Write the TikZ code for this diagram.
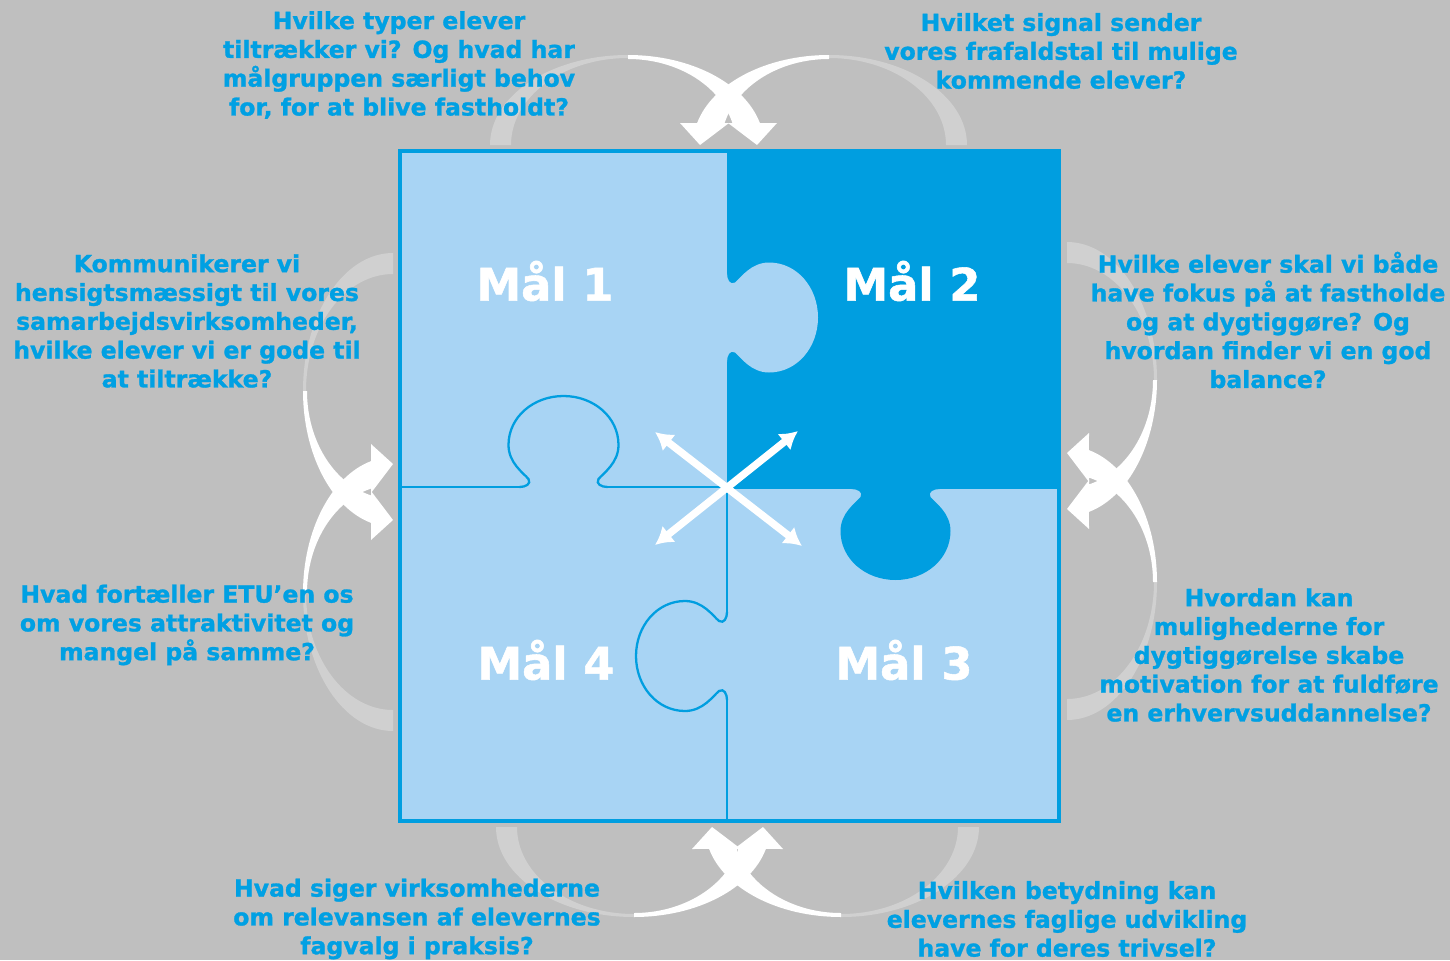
\documentclass[tikz,border=0pt]{standalone}
\usepackage{fontspec}
\setmainfont{DejaVu Sans}[BoldFeatures={FakeBold=1.2}]
\usetikzlibrary{arrows.meta}
\definecolor{bggray}{RGB}{191,191,191}
\definecolor{arcgray}{RGB}{208,208,208}
\definecolor{lightpiece}{RGB}{168,212,244}
\definecolor{darkpiece}{RGB}{0,158,224}
\definecolor{txtblue}{RGB}{0,160,227}

% canonical curved arrow (image frame, y down): tail at top, bulge left, head at bottom pointing right
\newcommand\bendarrow[1]{%
 \begin{scope}[#1]
  \fill[arcgray] (0,-138) arc[start angle=270,end angle=180,x radius=90,y radius=138]
     -- (-87,0) arc[start angle=180,end angle=270,x radius=87,y radius=117] -- cycle;
  \fill[white] (-90,0) arc[start angle=180,end angle=104.1,x radius=90,y radius=136]
     -- (-22,149) -- (0,129) -- (-22,100) -- (-22,104.4)
     arc[start angle=104.82,end angle=180,x radius=86,y radius=108] -- cycle;
 \end{scope}}

\newcommand\knobfill[1]{\fill[#1] (-44,-3) -- (-44,0) .. controls (-38,0) and (-32,3) .. (-35,8)
  .. controls (-40,14) and (-55,24) .. (-55,42) .. controls (-55,70) and (-30,91) .. (0,91)
  .. controls (30,91) and (55,70) .. (55,42) .. controls (55,24) and (40,14) .. (35,8)
  .. controls (32,3) and (38,0) .. (44,0) -- (44,-3) -- cycle;}
\newcommand\knobline[1]{\draw[#1] (-44,0) .. controls (-38,0) and (-32,3) .. (-35,8)
  .. controls (-40,14) and (-55,24) .. (-55,42) .. controls (-55,70) and (-30,91) .. (0,91)
  .. controls (30,91) and (55,70) .. (55,42) .. controls (55,24) and (40,14) .. (35,8)
  .. controls (32,3) and (38,0) .. (44,0);}

\begin{document}
\begin{tikzpicture}[x=0.02cm,y=0.02cm,yscale=-1,
  qtext/.style={text=txtblue,font=\fontsize{13.4}{16.4}\selectfont\bfseries,align=center,inner sep=0pt},
  goal/.style={text=white,font=\fontsize{25.5}{30}\selectfont\bfseries,inner sep=0pt},
  divider/.style={draw=darkpiece,line width=1.3pt,line cap=round},
  border/.style={draw=darkpiece,line width=1.8pt},
  xarrow/.style={draw=white,line width=4.2pt,{Latex[length=10pt,width=12pt]}-{Latex[length=10pt,width=12pt]}}]
\useasboundingbox (0,0) rectangle (1450,960);
\fill[bggray] (0,0) rectangle (1450,960);

% curved arrows
\bendarrow{shift={(393,391)}}
\bendarrow{shift={(393,593)},yscale=-1}
\bendarrow{shift={(1067,380)},xscale=-1}
\bendarrow{shift={(1067,582)},xscale=-1,yscale=-1}
\bendarrow{shift={(628,145)},cm={0,1,1,0,(0,0)}}
\bendarrow{shift={(829,145)},cm={0,1,-1,0,(0,0)}}
\bendarrow{shift={(634,827)},cm={0,-1,1,0,(0,0)}}
\bendarrow{shift={(841,827)},cm={0,-1,-1,0,(0,0)}}

% puzzle
\fill[lightpiece] (400,151) rectangle (1059,821);
\fill[darkpiece] (727,151) rectangle (1059,489);
\knobfill{darkpiece,shift={(895.5,489)}}
\knobfill{lightpiece,shift={(727,317.5)},rotate=-90}
\draw[divider] (400,487) -- (519.5,487);
\knobline{divider,shift={(563.5,487)},rotate=180}
\draw[divider] (607.5,487) -- (727,487);
\draw[divider] (727,487) -- (727,612);
\knobline{divider,shift={(727,656)},rotate=90}
\draw[divider] (727,700) -- (727,821);
\draw[border] (400,151) rectangle (1059,821);

\node[goal] (m1) at (545,281) {Mål 1};
\node[goal] (m2) at (912,281) {Mål 2};
\node[goal] (m3) at (904,660) {Mål 3};
\node[goal] (m4) at (546,660) {Mål 4};

% central cross
\coordinate (xa) at (655,432);
\coordinate (xb) at (802,546);
\coordinate (xc) at (798,431);
\coordinate (xd) at (655,545);
\draw[xarrow] (xa) -- (xb);
\draw[xarrow] (xc) -- (xd);

% questions
\node[qtext] (q1) at (399,65) {Hvilke typer elever\\tiltrækker vi? Og hvad har\\målgruppen særligt behov\\for, for at blive fastholdt?};
\node[qtext] (q2) at (1061,51) {Hvilket signal sender\\vores frafaldstal til mulige\\kommende elever?};
\node[qtext] (q3) at (187,321) {Kommunikerer vi\\hensigtsmæssigt til vores\\samarbejdsvirksomheder,\\hvilke elever vi er gode til\\at tiltrække?};
\node[qtext] (q4) at (1268,320) {Hvilke elever skal vi både\\have fokus på at fastholde\\og at dygtiggøre? Og\\hvordan finder vi en god\\balance?};
\node[qtext] (q5) at (187,625) {Hvad fortæller ETU’en os\\om vores attraktivitet og\\mangel på samme?};
\node[qtext] (q6) at (1269,655) {Hvordan kan\\mulighederne for\\dygtiggørelse skabe\\motivation for at fuldføre\\en erhvervsuddannelse?};
\node[qtext] (q7) at (417,919) {Hvad siger virksomhederne\\om relevansen af elevernes\\fagvalg i praksis?};
\node[qtext] (q8) at (1067,919) {Hvilken betydning kan\\elevernes faglige udvikling\\have for deres trivsel?};
\end{tikzpicture}
\end{document}
